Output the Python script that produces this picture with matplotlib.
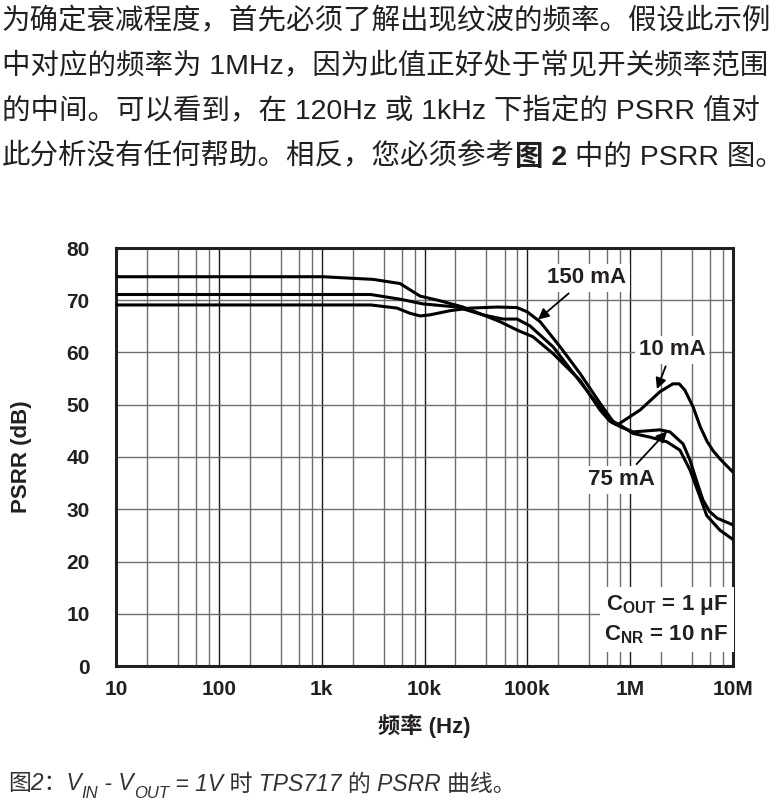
import matplotlib
matplotlib.use("Agg")
import matplotlib.pyplot as plt
from matplotlib.ticker import FixedLocator, LogLocator, NullFormatter

plt.rcParams["font.family"] = ["Liberation Sans", "Noto Sans CJK SC"]
plt.rcParams["mathtext.fontset"] = "custom"
plt.rcParams["mathtext.rm"] = "Liberation Sans"
plt.rcParams["mathtext.it"] = "Liberation Sans:italic"
plt.rcParams["mathtext.bf"] = "Liberation Sans:bold"

INK = "#231f20"

# PSRR curves (frequency in Hz, PSRR in dB)
freq_10ma = [10, 1030, 2000, 3150, 5780, 7230, 9040, 14150, 23700, 40600, 54200, 79400,
             113600, 177700, 325000, 509000, 637000, 745000, 1.25e6, 1.95e6, 2.6e6, 3.0e6,
             3.4e6, 4.09e6, 4.8e6, 5.59e6, 6.4e6, 7.5e6, 1e7]
psrr_10ma = [74.5, 74.5, 74.2, 74.0, 73.2, 72.0, 70.8, 69.9, 68.7, 66.9, 65.9, 64.3,
             63.0, 59.8, 54.7, 49.0, 46.8, 46.1, 49.0, 52.5, 54.0, 54.0,
             52.8, 49.6, 45.8, 43.0, 41.2, 39.6, 37.1]

freq_75ma = [10, 1000, 3000, 5780, 9660, 20700, 37000, 58000, 79400, 106000, 177700,
             380000, 596000, 797000, 1.07e6, 1.95e6, 2.44e6, 3.27e6, 3.8e6, 4.5e6,
             5.1e6, 5.9e6, 7.0e6, 1e7]
psrr_75ma = [71.1, 71.1, 71.1, 70.2, 69.3, 68.7, 67.2, 66.4, 66.4, 65.1, 61.1,
             52.7, 47.7, 45.8, 44.8, 45.2, 44.8, 42.5, 39.5, 35.0,
             31.8, 29.6, 28.3, 27.0]

freq_150ma = [10, 1000, 3000, 5400, 7230, 9040, 11300, 17700, 27700, 50700, 79400, 99400,
              133000, 208000, 325000, 509000, 681000, 797000, 1.07e6, 1.56e6, 2.28e6,
              3.05e6, 3.82e6, 4.77e6, 5.55e6, 7.46e6, 1e7]
psrr_150ma = [69.1, 69.1, 69.1, 68.5, 67.5, 67.0, 67.2, 68.0, 68.5, 68.7, 68.6, 67.8,
              65.9, 61.1, 56.0, 50.3, 46.8, 46.1, 44.5, 43.8, 42.9,
              41.3, 37.5, 32.4, 28.8, 26.0, 24.2]

x_ticks = [10, 100, 1e3, 1e4, 1e5, 1e6, 1e7]
x_tick_labels = ["10", "100", "1k", "10k", "100k", "1M", "10M"]
y_ticks = [0, 10, 20, 30, 40, 50, 60, 70, 80]

paragraph = [
    "为确定衰减程度，首先必须了解出现纹波的频率。假设此示例",
    "中对应的频率为 1MHz，因为此值正好处于常见开关频率范围",
    "的中间。可以看到，在 120Hz 或 1kHz 下指定的 PSRR 值对",
]
last_line = [("此分析没有任何帮助。相反，您必须参考", "normal"), ("图 2", "bold"), (" 中的 PSRR 图。", "normal")]
caption = [("图2：V", False), ("IN", True), (" - V", False), ("OUT", True),
           (" = 1V 时 TPS717 的 PSRR 曲线。", False)]


def chain_text(tax, pieces, x0, y0, size, color, style="normal", sub_size=None):
    first = None
    prev = None
    for text, flag in pieces:
        if prev is None:
            t = tax.text(x0, y0, text, fontsize=size, color=color, style=style,
                         va="center", ha="left",
                         fontweight=flag if isinstance(flag, str) else "normal")
            first = t
        elif isinstance(flag, str):
            t = tax.annotate(text, xy=(1, 0), xycoords=(prev, first), va="bottom", ha="left",
                             fontsize=size, color=color, style=style, fontweight=flag)
        elif flag:
            t = tax.annotate(text, xy=(1, 0), xycoords=(prev, first), xytext=(0, -4),
                             textcoords="offset points", va="bottom", ha="left",
                             fontsize=sub_size, color=color, style=style)
        else:
            t = tax.annotate(text, xy=(1, 0), xycoords=(prev, first), va="bottom", ha="left",
                             fontsize=size, color=color, style=style)
        prev = t
    return first


fig = plt.figure(figsize=(7.84, 8.01), dpi=100)
tax = fig.add_axes([0, 0, 1, 1])
tax.axis("off")
tax.set_xlim(0, 1)
tax.set_ylim(0, 1)

for i, line in enumerate(paragraph):
    tax.text(0.002, 1 - (22 + 45 * i) / 801, line, fontsize=20.5, color=INK, va="center", ha="left")
chain_text(tax, last_line, 0.002, 1 - 157 / 801, 20.5, INK)
chain_text(tax, caption, 0.01, 1 - 784 / 801, 16.5, "#333333", style="italic", sub_size=12)

ax = fig.add_axes([116 / 784, 1 - 666 / 801, 617 / 784, 418 / 801])
ax.set_xscale("log")
ax.set_xlim(10, 1e7)
ax.set_ylim(0, 80)
ax.xaxis.set_major_locator(FixedLocator(x_ticks))
ax.set_xticklabels(x_tick_labels)
ax.xaxis.set_minor_locator(LogLocator(base=10, subs=[2, 4, 6, 8]))
ax.xaxis.set_minor_formatter(NullFormatter())
ax.set_yticks(y_ticks)
ax.tick_params(which="both", length=0)
ax.tick_params(axis="x", pad=10, labelsize=15, labelcolor=INK)
ax.tick_params(axis="y", pad=19, labelsize=15, labelcolor=INK)
for lab in ax.get_xticklabels() + ax.get_yticklabels():
    lab.set_fontweight("bold")

ax.grid(which="major", axis="x", color="#1a1a1a", linewidth=1.0)
ax.grid(which="minor", axis="x", color="#6e6e6e", linewidth=1.0)
ax.grid(which="major", axis="y", color="#6e6e6e", linewidth=1.0)
ax.set_axisbelow(True)
for sp in ax.spines.values():
    sp.set_linewidth(2.2)
    sp.set_color(INK)

for f, p in [(freq_10ma, psrr_10ma), (freq_75ma, psrr_75ma), (freq_150ma, psrr_150ma)]:
    ax.plot(f, p, color="black", linewidth=2.2, solid_joinstyle="round", solid_capstyle="round", zorder=3)

label_box = dict(boxstyle="square,pad=0.15", facecolor="white", edgecolor="none")
arrow = dict(arrowstyle="-|>", color="black", lw=1.3, mutation_scale=16, shrinkA=2, shrinkB=0)
ax.annotate("150 mA", xy=(1.27e5, 66.3), xytext=(3.8e5, 74.3), fontsize=16, fontweight="bold",
            color=INK, ha="center", va="center", bbox=label_box, arrowprops=arrow, zorder=5)
ax.annotate("10 mA", xy=(1.82e6, 53.0), xytext=(2.55e6, 60.5), fontsize=16, fontweight="bold",
            color=INK, ha="center", va="center", bbox=label_box, arrowprops=arrow, zorder=5)
ax.annotate("75 mA", xy=(2.28e6, 44.9), xytext=(8.3e5, 35.6), fontsize=16, fontweight="bold",
            color=INK, ha="center", va="center", bbox=label_box, arrowprops=arrow, zorder=5)

ax.text(0.992, 0.146, "C$_\\mathbf{OUT}$ = 1 μF", transform=ax.transAxes, fontsize=16,
        fontweight="bold", color=INK, ha="right", va="center",
        bbox=dict(boxstyle="square,pad=0.25", facecolor="white", edgecolor="none"), zorder=5)
ax.text(0.992, 0.074, "C$_\\mathbf{NR}$ = 10 nF", transform=ax.transAxes, fontsize=16,
        fontweight="bold", color=INK, ha="right", va="center",
        bbox=dict(boxstyle="square,pad=0.25", facecolor="white", edgecolor="none"), zorder=5)

fig.text(22 / 784, 1 - 457 / 801, "PSRR (dB)", rotation=90, fontsize=16, fontweight="bold",
         color=INK, ha="center", va="center")
fig.text(424 / 784, 1 - 726 / 801, "频率 (Hz)", fontsize=16, fontweight="bold",
         color=INK, ha="center", va="center")

fig.savefig("out.png", dpi=100)
